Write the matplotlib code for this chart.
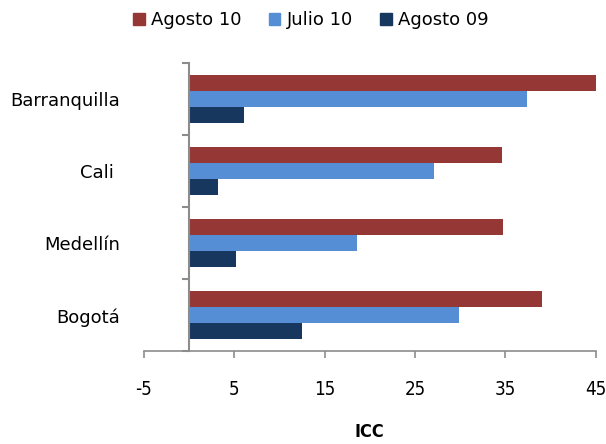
import numpy as np
import matplotlib.pyplot as plt
from matplotlib.patches import Patch

ciudades = ["Bogotá", "Medellín", "Cali ", "Barranquilla"]
agosto_09 = [12.5, 5.2, 3.2, 6.1]
julio_10 = [29.9, 18.6, 27.1, 37.4]
agosto_10 = [39.1, 34.8, 34.7, 45.0]
xticks = [-5, 5, 15, 25, 35, 45]

c_ago09 = "#17375E"
c_jul10 = "#558ED5"
c_ago10 = "#953735"
gris = "#8C8C8C"

fig = plt.figure(figsize=(6.06, 4.44), dpi=100)
ax = fig.add_axes([144 / 606, 1 - 351.3 / 444, 451.5 / 606, 288.3 / 444])

y = np.arange(len(ciudades))
h = 0.222
ax.barh(y - h, agosto_09, height=h, color=c_ago09)
ax.barh(y, julio_10, height=h, color=c_jul10)
ax.barh(y + h, agosto_10, height=h, color=c_ago10)

ax.set_xlim(-5, 45)
ax.set_ylim(-0.5, len(ciudades) - 0.5)

for s in ["top", "right"]:
    ax.spines[s].set_visible(False)
ax.spines["left"].set_position(("data", 0))
ax.spines["left"].set_color(gris)
ax.spines["left"].set_linewidth(1.5)
ax.spines["bottom"].set_color(gris)
ax.spines["bottom"].set_linewidth(1.2)

# ticks del eje y en los limites de las categorias, etiquetas al centro
ax.set_yticks(np.arange(len(ciudades) + 1) - 0.5)
ax.set_yticklabels([])
ax.tick_params(axis="y", which="major", length=5, width=1.5, color=gris)
ax.set_yticks(y, minor=True)
ax.set_yticklabels(ciudades, minor=True, fontsize=13, family="DejaVu Sans")
ax.tick_params(axis="y", which="minor", length=0, pad=50)

ax.set_xticks(xticks)
ax.set_xticklabels([str(v) for v in xticks], fontsize=13.5,
                   family="DejaVu Sans", fontstretch="condensed")
ax.tick_params(axis="x", length=5, width=1.2, color=gris, pad=16)
ax.set_xlabel("ICC", fontsize=13, fontweight="bold", family="DejaVu Sans",
              fontstretch="condensed", labelpad=17)

handles = [Patch(color=c_ago10, label="Agosto 10"),
           Patch(color=c_jul10, label="Julio 10"),
           Patch(color=c_ago09, label="Agosto 09")]
fig.legend(handles=handles, loc="center", bbox_to_anchor=(0.513, 0.955), ncol=3,
           frameon=False, prop={"family": "DejaVu Sans", "size": 13},
           handlelength=0.65, handleheight=0.65, handletextpad=0.35, columnspacing=1.5)

fig.savefig("out.png", dpi=100)
